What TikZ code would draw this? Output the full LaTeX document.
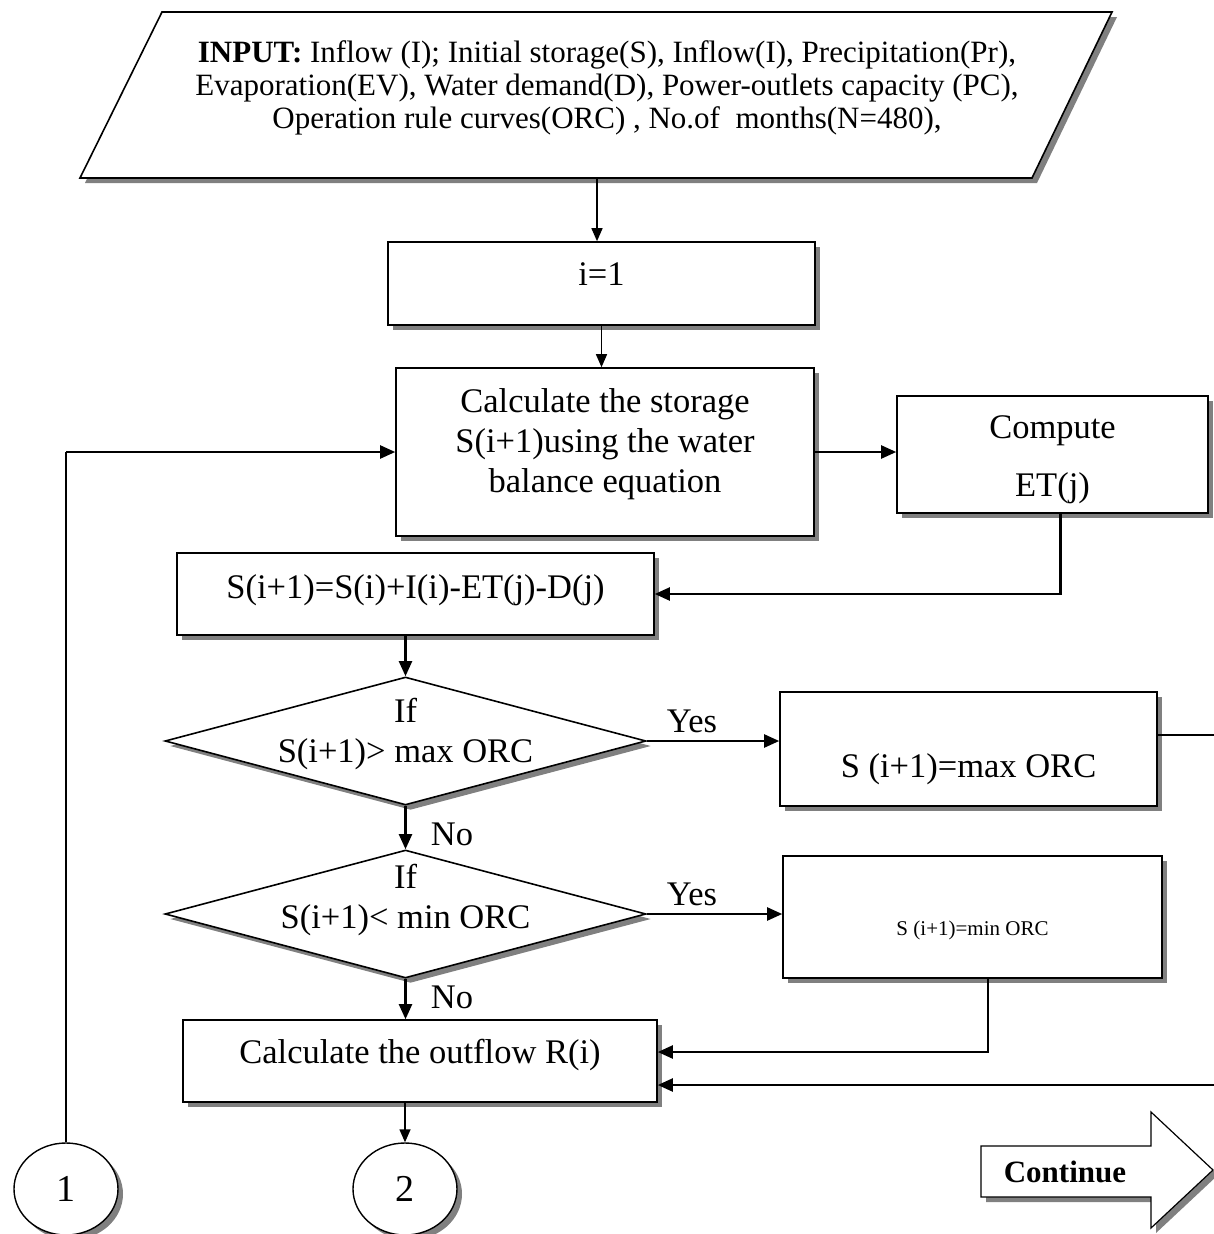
\documentclass[tikz,border=0pt]{standalone}
\usepackage{fontspec}
\setmainfont{Liberation Serif}
\usetikzlibrary{arrows.meta,positioning,calc,shapes.geometric,shadows}
\tikzset{
  dropsh/.style={drop shadow={shadow xshift=5pt,shadow yshift=-5pt,fill=black!50,opacity=1}},
  boxtext/.style={align=center,font=\fontsize{34.5}{40}\selectfont},
  procbox/.style={rectangle,draw=black,line width=1.6pt,fill=white,dropsh,inner sep=0pt,font=\fontsize{34.5}{40}\selectfont},
  decide/.style={diamond,draw=black,line width=1.6pt,fill=white,dropsh,inner sep=0pt,minimum width=481pt,minimum height=128pt},
  ioshape/.style={draw=black,line width=1.6pt,fill=white,dropsh},
  connect/.style={ellipse,draw=black,line width=1.4pt,fill=white,dropsh,minimum width=104pt,minimum height=92pt,inner sep=0pt,font=\fontsize{38}{40}\selectfont},
  flow/.style={line width=2.2pt,-{Triangle[length=15pt,width=13pt]}},
  thinflow/.style={line width=1.4pt,-{Triangle[length=13pt,width=11pt]}},
  wire/.style={line width=2pt},
  lab/.style={font=\fontsize{34.5}{40}\selectfont},
}
\begin{document}
\begin{tikzpicture}[x=1pt,y=-1pt]
  \useasboundingbox (0,0) rectangle (1214,1234);
  % input block
  \draw[ioshape] (162,12) -- (1112,12) -- (1032,178) -- (80,178) -- cycle;
  \coordinate (inbot) at (597,178);
  \node[align=center,font=\fontsize{31}{33}\selectfont] (intext) at (607,88)
    {\textbf{INPUT:} Inflow (I); Initial storage(S), Inflow(I), Precipitation(Pr),\\
     Evaporation(EV), Water demand(D), Power-outlets capacity (PC),\\
     Operation rule curves(ORC) , No.of\ \ months(N=480),};
  % main column
  \node[procbox,minimum width=427pt,text height=43pt,text depth=40pt] (one) at (601.5,283.5) {i=1};
  \node[procbox,minimum width=418pt,minimum height=168pt,
        label={[boxtext,yshift=8pt]center:{Calculate the storage\\S(i+1)using the water\\balance equation}}] (store) at (605,452) {};
  \node[procbox,minimum width=311pt,minimum height=117pt,
        label={[boxtext,yshift=-5pt]center:{Compute\\[18pt]ET(j)}}] (comp) at (1052.5,454.5) {};
  \node[procbox,minimum width=477pt,text height=45pt,text depth=37pt] (bal) at (415.5,594)
    {S(i+1)=S(i)+I(i)-ET(j)-D(j)};
  \node[decide,label={[boxtext,yshift=7pt]center:{If\\S(i+1)> max ORC}}] (dmax) at (405.5,741) {};
  \node[procbox,minimum width=377pt,text height=85pt,text depth=29pt] (maxb) at (968.5,749)
    {S (i+1)=max ORC};
  \node[decide,label={[boxtext,yshift=14pt]center:{If\\S(i+1)< min ORC}}] (dmin) at (405.5,914) {};
  \node[procbox,minimum width=379pt,text height=79pt,text depth=43pt,font=\fontsize{21}{25}\selectfont] (minb) at (972.5,917)
    {S (i+1)=min ORC};
  \node[procbox,minimum width=474pt,text height=43pt,text depth=39pt] (out) at (420,1061)
    {Calculate the outflow R(i)};
  % connectors and continue mark
  \node[connect] (c1) at (66,1189) {1};
  \node[connect] (c2) at (405,1189) {2};
  \draw[line width=1.2pt,fill=white,dropsh] (981,1146) -- (1151,1146) -- (1151,1112) -- (1213,1170)
    -- (1151,1228) -- (1151,1197) -- (981,1197) -- cycle;
  \node[font=\bfseries\fontsize{31}{36}\selectfont] (cont) at (1065,1172) {Continue};
  % branch labels
  \node[lab] (yes1) at (692,721) {Yes};
  \node[lab] (yes2) at (692,894) {Yes};
  \node[lab] (no1) at (452,834) {No};
  \node[lab] (no2) at (452,997) {No};
  % edges leaving the picture on the right
  \coordinate (rimtop) at (1214,735);
  \coordinate (rimlow) at (1214,1085);
  \draw[thinflow] (inbot) -- (inbot |- one.north);
  \draw[thinflow] (one.south) -- (one.south |- store.north);
  \draw[flow] (store.east) -- (store.east -| comp.west);
  \draw[flow] ([xshift=8pt]comp.south) |- (bal.east);
  \draw[line width=1.4pt] (c1.north) -- (c1.north |- store.west);
  \draw[flow] (c1.north |- store.west) -- (store.west);
  \draw[flow] (bal.south -| dmax.north) -- (dmax.north);
  \draw[flow] (dmax.east) -- (dmax.east -| maxb.west);
  \draw[flow] (dmax.south) -- (dmin.north);
  \draw[flow] (dmin.east) -- (dmin.east -| minb.west);
  \draw[flow] (dmin.south) -- (dmin.south |- out.north);
  \draw[flow] ([xshift=15.5pt]minb.south) |- ([yshift=9pt]out.east);
  \draw[wire] ([yshift=14pt]maxb.east) -- (rimtop);
  \draw[flow] (rimlow) -- ([yshift=-24pt]out.east);
  \draw[thinflow] (out.south -| c2.north) -- (c2.north);
\end{tikzpicture}
\end{document}
